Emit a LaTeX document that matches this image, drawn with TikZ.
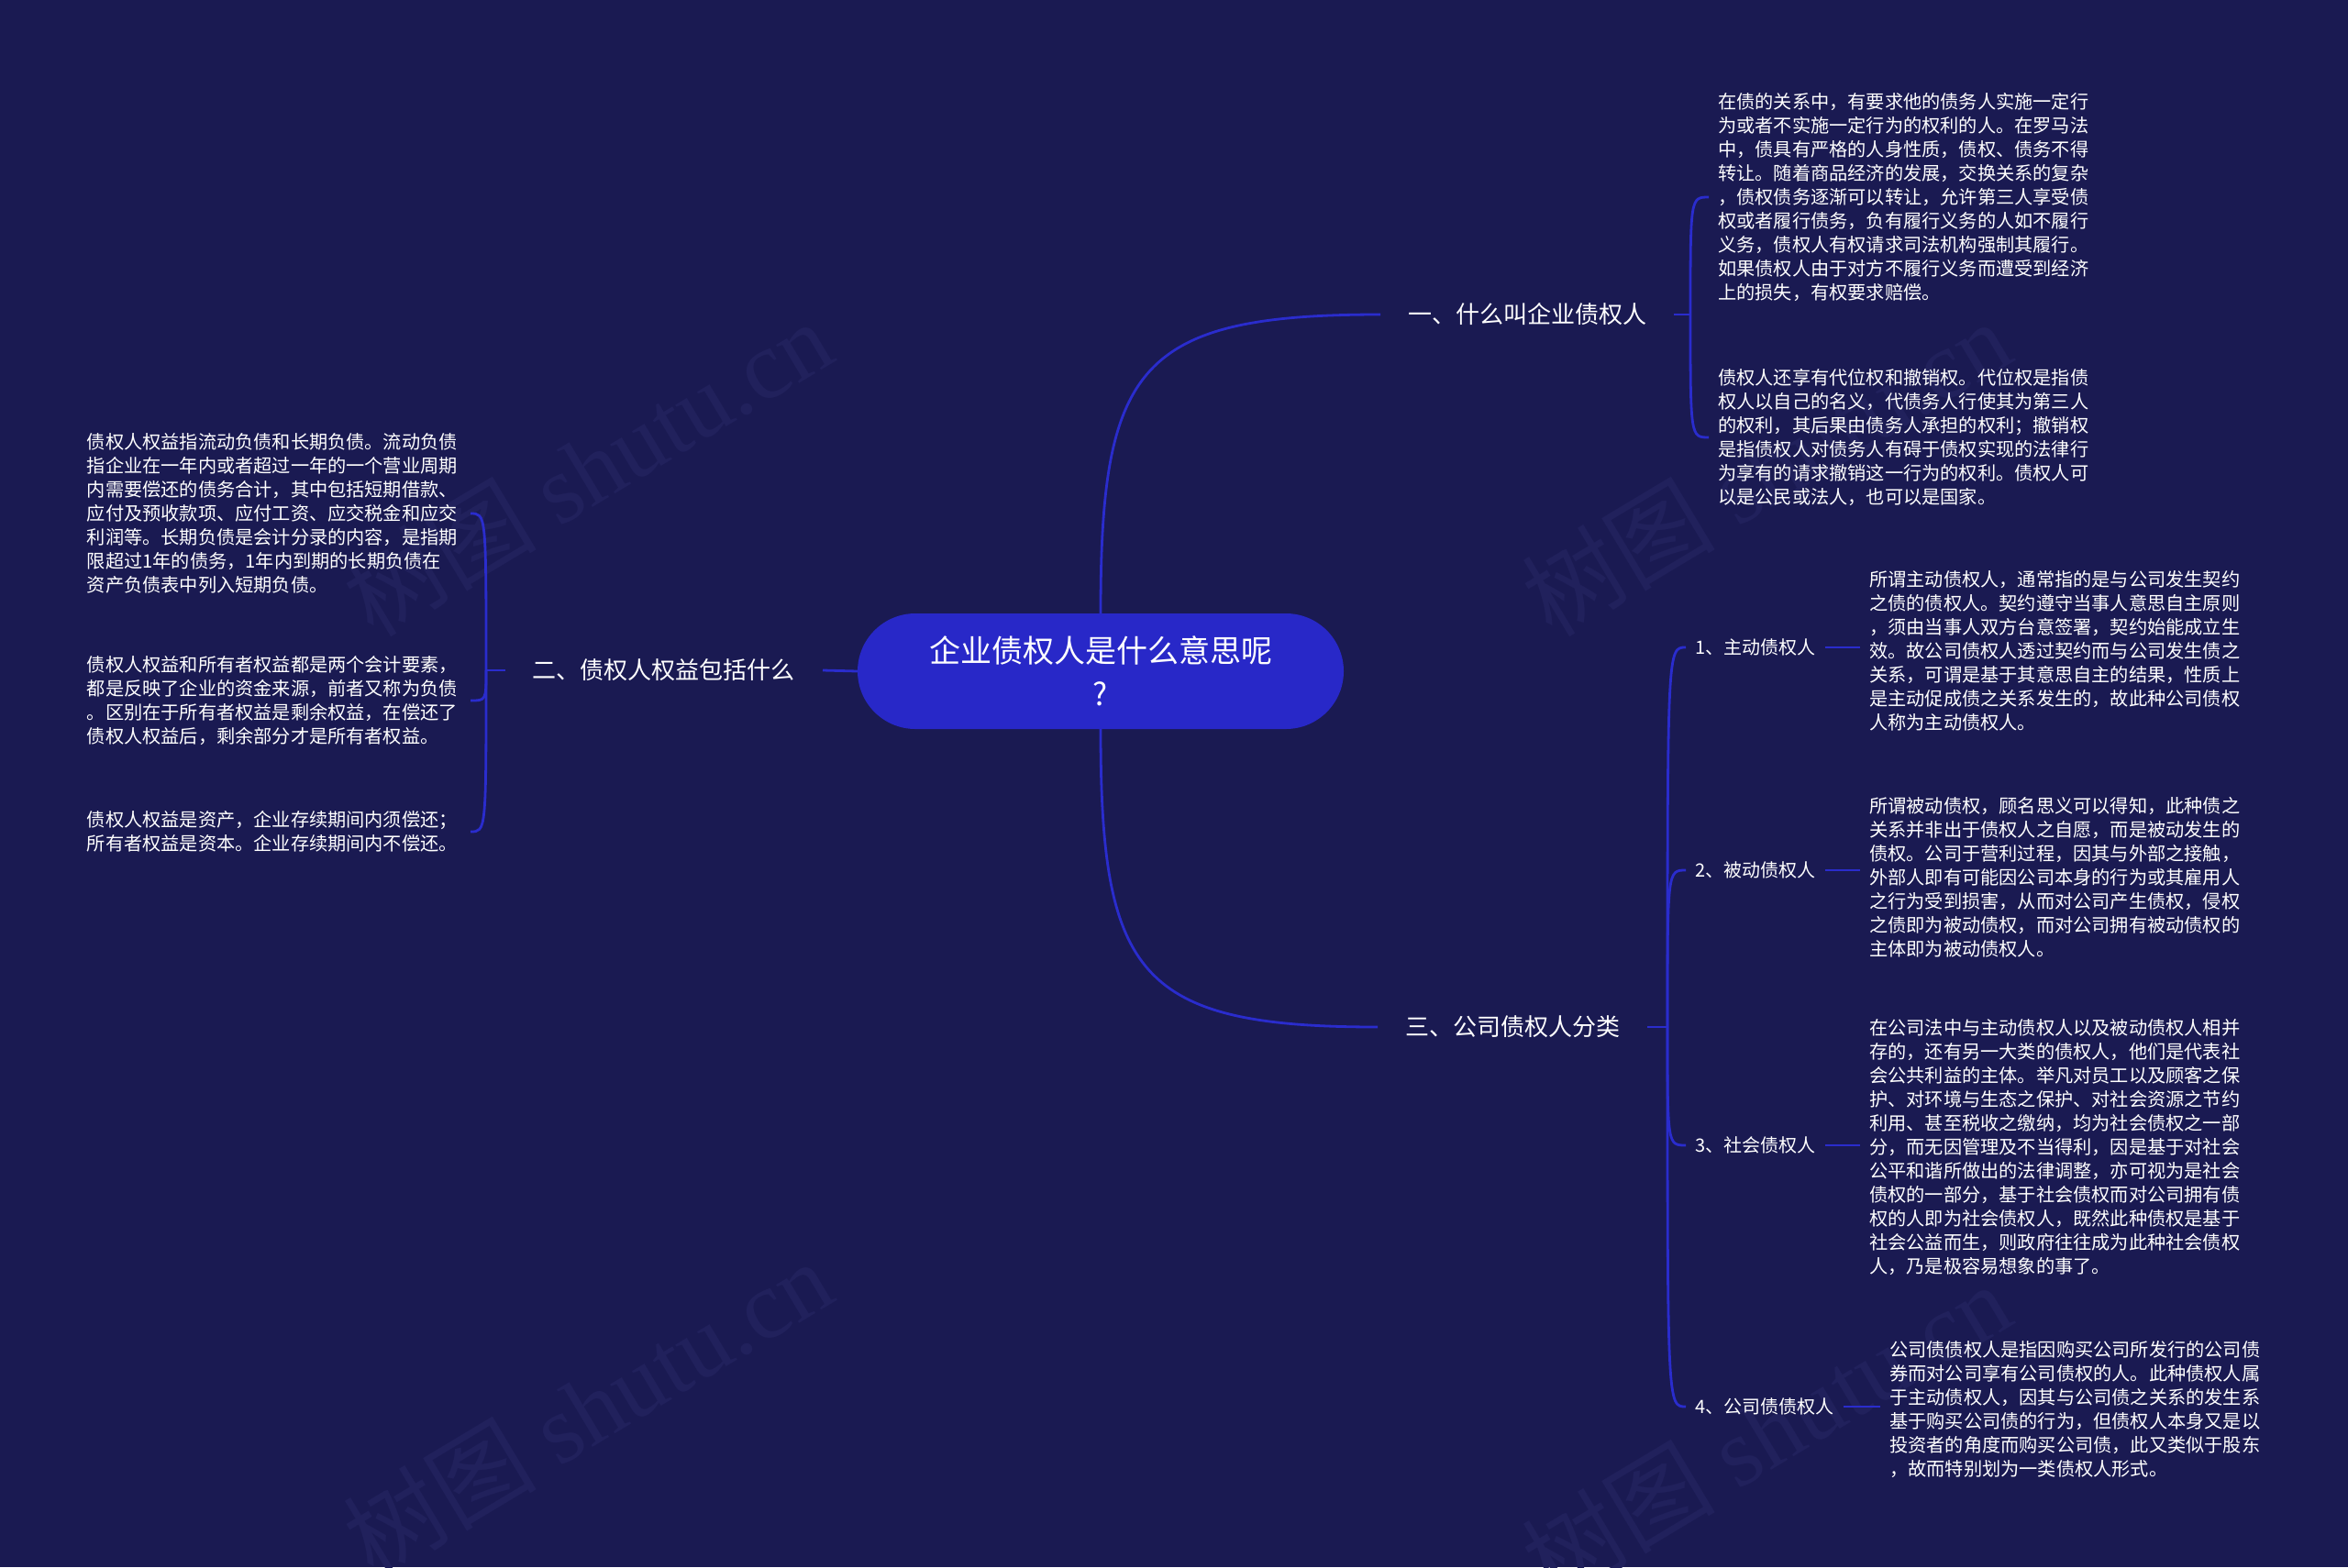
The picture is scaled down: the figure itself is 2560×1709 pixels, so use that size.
\documentclass[tikz,border=0pt]{standalone}
\usepackage{fontspec}
\setmainfont{Noto Sans CJK SC}
\newfontfamily\wmlatin{Liberation Serif}
\definecolor{bgcol}{RGB}{26,26,82}
\definecolor{rootcol}{RGB}{40,40,200}
\definecolor{linecol}{RGB}{42,44,205}
\definecolor{wmcol}{RGB}{33,33,92}
\tikzset{
  conn/.style={draw=linecol, line width=2.8pt},
  rootbox/.style={fill=rootcol, rounded corners=63pt, minimum width=530pt, minimum height=126pt,
    text=white, align=center, inner sep=0pt, font=\fontsize{34}{47}\selectfont},
  branchlbl/.style={text=white, inner xsep=30pt, inner ysep=4pt, font=\fontsize{26}{30}\selectfont},
  itemlbl/.style={text=white, inner xsep=10pt, inner ysep=4pt, font=\fontsize{20}{24}\selectfont},
  detail/.style={text=white, inner xsep=10pt, inner ysep=2pt, align=left, text width=408pt,
    font=\fontsize{20.2}{26}\selectfont},
  wmark/.style={text=wmcol, rotate=31, inner sep=0pt, font=\fontsize{106}{110}\selectfont}
}
\begin{document}
\begin{tikzpicture}[x=1pt,y=-1pt]
\fill[bgcol] (0,0) rectangle (2560,1709);
\useasboundingbox (0,0) rectangle (2560,1709);

% watermarks
\node[wmark] (wm1) at (640,510) {树图 {\wmlatin shutu.cn}};
\node[wmark] (wm2) at (640,1535) {树图 {\wmlatin shutu.cn}};
\node[wmark] (wm3) at (1925,510) {树图 {\wmlatin shutu.cn}};
\node[wmark] (wm4) at (1925,1560) {树图 {\wmlatin shutu.cn}};

% root
\node[rootbox] (root) at (1200,732) {企业债权人是什么意思呢\\?};

% branches
\node[branchlbl, anchor=west] (b1) at (1505,343) {一、什么叫企业债权人};
\node[branchlbl, anchor=east] (b2) at (897,731) {二、债权人权益包括什么};
\node[branchlbl, anchor=west] (b3) at (1502,1120) {三、公司债权人分类};

\draw[conn] (root.north) .. controls (1200,400) and (1240,343) .. (b1.west);
\draw[conn] (root.south) .. controls (1200,1063) and (1240,1120) .. (b3.west);
\draw[conn] (root.west) -- (b2.east);

% branch 1 details
\node[detail, anchor=west] (r1) at (1863,215) {在债的关系中，有要求他的债务人实施一定行\\
为或者不实施一定行为的权利的人。在罗马法\\
中，债具有严格的人身性质，债权、债务不得\\
转让。随着商品经济的发展，交换关系的复杂\\
，债权债务逐渐可以转让，允许第三人享受债\\
权或者履行债务，负有履行义务的人如不履行\\
义务，债权人有权请求司法机构强制其履行。\\
如果债权人由于对方不履行义务而遭受到经济\\
上的损失，有权要求赔偿。};
\node[detail, anchor=west] (r2) at (1863,477) {债权人还享有代位权和撤销权。代位权是指债\\
权人以自己的名义，代债务人行使其为第三人\\
的权利，其后果由债务人承担的权利；撤销权\\
是指债权人对债务人有碍于债权实现的法律行\\
为享有的请求撤销这一行为的权利。债权人可\\
以是公民或法人，也可以是国家。};
\coordinate (j1) at (1843,343);
\draw[conn] (b1.east) -- (j1);
\draw[conn] (j1) .. controls (j1 |- r1.west) .. (r1.west);
\draw[conn] (j1) .. controls (j1 |- r2.west) .. (r2.west);

% branch 2 details
\node[detail, anchor=east] (l1) at (513,560) {债权人权益指流动负债和长期负债。流动负债\\
指企业在一年内或者超过一年的一个营业周期\\
内需要偿还的债务合计，其中包括短期借款、\\
应付及预收款项、应付工资、应交税金和应交\\
利润等。长期负债是会计分录的内容，是指期\\
限超过1年的债务，1年内到期的长期负债在\\
资产负债表中列入短期负债。};
\node[detail, anchor=east] (l2) at (513,764) {债权人权益和所有者权益都是两个会计要素，\\
都是反映了企业的资金来源，前者又称为负债\\
。区别在于所有者权益是剩余权益，在偿还了\\
债权人权益后，剩余部分才是所有者权益。};
\node[detail, anchor=east] (l3) at (513,907) {债权人权益是资产，企业存续期间内须偿还；\\
所有者权益是资本。企业存续期间内不偿还。};
\coordinate (j2) at (530,731);
\draw[conn] (b2.west) -- (j2);
\draw[conn] (j2) .. controls (j2 |- l1.east) .. (l1.east);
\draw[conn] (j2) .. controls (j2 |- l2.east) .. (l2.east);
\draw[conn] (j2) .. controls (j2 |- l3.east) .. (l3.east);

% branch 3 items
\node[itemlbl, anchor=west] (s1) at (1838,706) {1、主动债权人};
\node[itemlbl, anchor=west] (s2) at (1838,949) {2、被动债权人};
\node[itemlbl, anchor=west] (s3) at (1838,1249) {3、社会债权人};
\node[itemlbl, anchor=west] (s4) at (1838,1534) {4、公司债债权人};
\coordinate (j3) at (1818,1120);
\draw[conn] (b3.east) -- (j3);
\draw[conn] (j3) .. controls (j3 |- s1.west) .. (s1.west);
\draw[conn] (j3) .. controls (j3 |- s2.west) .. (s2.west);
\draw[conn] (j3) .. controls (j3 |- s3.west) .. (s3.west);
\draw[conn] (j3) .. controls (j3 |- s4.west) .. (s4.west);

\node[detail, anchor=west] (t1) at (2028,710) {所谓主动债权人，通常指的是与公司发生契约\\
之债的债权人。契约遵守当事人意思自主原则\\
，须由当事人双方台意签署，契约始能成立生\\
效。故公司债权人透过契约而与公司发生债之\\
关系，可谓是基于其意思自主的结果，性质上\\
是主动促成债之关系发生的，故此种公司债权\\
人称为主动债权人。};
\node[detail, anchor=west] (t2) at (2028,957) {所谓被动债权，顾名思义可以得知，此种债之\\
关系并非出于债权人之自愿，而是被动发生的\\
债权。公司于营利过程，因其与外部之接触，\\
外部人即有可能因公司本身的行为或其雇用人\\
之行为受到损害，从而对公司产生债权，侵权\\
之债即为被动债权，而对公司拥有被动债权的\\
主体即为被动债权人。};
\node[detail, anchor=west] (t3) at (2028,1251) {在公司法中与主动债权人以及被动债权人相并\\
存的，还有另一大类的债权人，他们是代表社\\
会公共利益的主体。举凡对员工以及顾客之保\\
护、对环境与生态之保护、对社会资源之节约\\
利用、甚至税收之缴纳，均为社会债权之一部\\
分，而无因管理及不当得利，因是基于对社会\\
公平和谐所做出的法律调整，亦可视为是社会\\
债权的一部分，基于社会债权而对公司拥有债\\
权的人即为社会债权人，既然此种债权是基于\\
社会公益而生，则政府往往成为此种社会债权\\
人，乃是极容易想象的事了。};
\node[detail, anchor=west] (t4) at (2050,1537) {公司债债权人是指因购买公司所发行的公司债\\
券而对公司享有公司债权的人。此种债权人属\\
于主动债权人，因其与公司债之关系的发生系\\
基于购买公司债的行为，但债权人本身又是以\\
投资者的角度而购买公司债，此又类似于股东\\
，故而特别划为一类债权人形式。};
\draw[conn] (s1.east) -- (s1.east -| t1.west);
\draw[conn] (s2.east) -- (s2.east -| t2.west);
\draw[conn] (s3.east) -- (s3.east -| t3.west);
\draw[conn] (s4.east) -- (s4.east -| t4.west);
\end{tikzpicture}
\end{document}
